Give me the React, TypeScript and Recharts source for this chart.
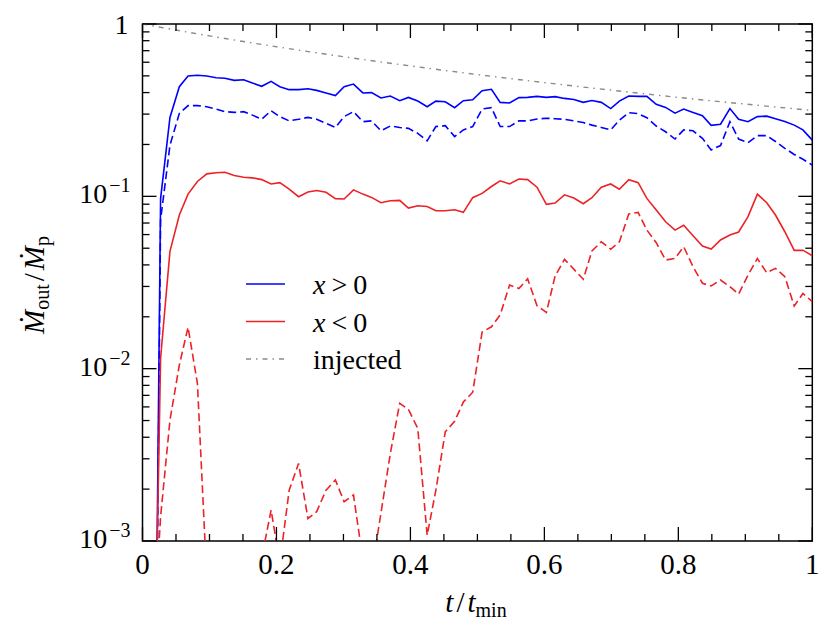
import React from 'react';
import { LineChart, Line, XAxis, YAxis, ReferenceArea, Legend } from 'recharts';

// chart box and plot area (px)
const W = 830;
const H = 635;
const PLOT_LEFT = 142.5;
const PLOT_TOP = 24;
const PLOT_RIGHT = 812.3;
const PLOT_BOTTOM = 541;

const FONT = '"Liberation Serif", "Times New Roman", Times, "DejaVu Serif", serif';
const TXT = { fontFamily: FONT };
const BLUE = '#0000ff';
const RED = '#ec2227';
const GREY = '#8a8a8a';

// t / t_min sample times
const T = [
  0, 0.014, 0.027, 0.041, 0.055, 0.068, 0.082, 0.096, 0.110, 0.123,
  0.137, 0.151, 0.164, 0.178, 0.192, 0.205, 0.219, 0.233, 0.247, 0.260,
  0.274, 0.288, 0.301, 0.315, 0.329, 0.342, 0.356, 0.370, 0.384, 0.397,
  0.411, 0.425, 0.438, 0.452, 0.466, 0.479, 0.493, 0.507, 0.521, 0.534,
  0.548, 0.562, 0.575, 0.589, 0.603, 0.616, 0.630, 0.644, 0.658, 0.671,
  0.685, 0.699, 0.712, 0.726, 0.740, 0.753, 0.767, 0.781, 0.795, 0.808,
  0.822, 0.836, 0.849, 0.863, 0.877, 0.890, 0.904, 0.918, 0.932, 0.945,
  0.959, 0.973, 0.986, 1,
];

// x > 0, total outflow (solid)
const BLUE_SOLID = [
  1e-8, 1e-6, 0.097, 0.287, 0.433, 0.499, 0.504, 0.499, 0.488, 0.484,
  0.471, 0.475, 0.455, 0.435, 0.465, 0.433, 0.416, 0.416, 0.421, 0.412,
  0.398, 0.384, 0.433, 0.448, 0.398, 0.400, 0.372, 0.382, 0.359, 0.375,
  0.357, 0.331, 0.357, 0.354, 0.327, 0.359, 0.363, 0.410, 0.418, 0.351,
  0.348, 0.374, 0.375, 0.380, 0.375, 0.379, 0.370, 0.365, 0.351, 0.360,
  0.351, 0.323, 0.357, 0.382, 0.380, 0.380, 0.342, 0.328, 0.304, 0.321,
  0.307, 0.294, 0.258, 0.262, 0.323, 0.280, 0.271, 0.290, 0.292, 0.282,
  0.272, 0.259, 0.243, 0.212,
];

// x > 0 (dashed)
const BLUE_DASHED = [
  1e-8, 3e-7, 0.073, 0.198, 0.303, 0.336, 0.336, 0.331, 0.321, 0.310,
  0.307, 0.310, 0.296, 0.280, 0.314, 0.290, 0.274, 0.280, 0.287, 0.280,
  0.265, 0.251, 0.290, 0.310, 0.271, 0.274, 0.240, 0.256, 0.251, 0.248,
  0.232, 0.210, 0.254, 0.257, 0.222, 0.243, 0.254, 0.321, 0.327, 0.254,
  0.254, 0.274, 0.274, 0.281, 0.284, 0.282, 0.280, 0.274, 0.268, 0.259,
  0.251, 0.243, 0.277, 0.306, 0.302, 0.286, 0.256, 0.237, 0.215, 0.243,
  0.240, 0.217, 0.186, 0.197, 0.271, 0.215, 0.205, 0.225, 0.225, 0.208,
  0.190, 0.175, 0.164, 0.152,
];

// x < 0 (solid)
const RED_SOLID = [
  1e-7, 2e-5, 0.0115, 0.048, 0.078, 0.103, 0.122, 0.135, 0.137, 0.138,
  0.132, 0.129, 0.128, 0.125, 0.118, 0.120, 0.110, 0.0995, 0.106, 0.108,
  0.1055, 0.097, 0.0965, 0.109, 0.103, 0.0986, 0.0918, 0.0943, 0.0947, 0.0855,
  0.0882, 0.0874, 0.0825, 0.0825, 0.0836, 0.0807, 0.0982, 0.104, 0.114, 0.123,
  0.118, 0.126, 0.125, 0.113, 0.0898, 0.0914, 0.102, 0.0977, 0.0906, 0.0982,
  0.113, 0.118, 0.110, 0.125, 0.120, 0.0973, 0.0833, 0.0712, 0.0637, 0.0679,
  0.0591, 0.0515, 0.0494, 0.0558, 0.0596, 0.0621, 0.0762, 0.103, 0.0918, 0.0779,
  0.0623, 0.0486, 0.0487, 0.0452,
];

// x < 0 (dashed)
const RED_DASHED = [
  1e-5, 0.0002, 0.00138, 0.00503, 0.0105, 0.0174, 0.0082, 0.0006, 0.0003, 0.0002,
  0.0002, 0.0003, 0.0004, 0.0008, 0.00151, 0.00075, 0.00197, 0.00282, 0.00135, 0.00148,
  0.00197, 0.00226, 0.00169, 0.00185, 0.00078, 0.00066, 0.00145, 0.00322, 0.00629, 0.0058,
  0.0045, 0.00108, 0.00197, 0.0043, 0.00495, 0.0064, 0.0073, 0.0163, 0.0175, 0.0205,
  0.0306, 0.0292, 0.0332, 0.0232, 0.0212, 0.0345, 0.0431, 0.0378, 0.0330, 0.0482,
  0.0545, 0.0493, 0.0545, 0.0789, 0.0807, 0.0637, 0.0538, 0.0427, 0.0436, 0.0510,
  0.0390, 0.0313, 0.0302, 0.0327, 0.0299, 0.0271, 0.0349, 0.0436, 0.0360, 0.0382,
  0.0342, 0.0231, 0.0273, 0.0245,
];

// injected rate
const INJ_T = [0, 0.1, 0.2, 0.3, 0.4, 0.5, 0.6, 0.7, 0.8, 0.9, 1];
const INJECTED = [1.0, 0.853, 0.738, 0.646, 0.571, 0.509, 0.457, 0.413, 0.375, 0.343, 0.315];

const X_TICKS = [
  0, 0.05, 0.1, 0.15, 0.2, 0.25, 0.3, 0.35, 0.4, 0.45, 0.5,
  0.55, 0.6, 0.65, 0.7, 0.75, 0.8, 0.85, 0.9, 0.95, 1,
];
const X_MAJOR = [0, 0.2, 0.4, 0.6, 0.8, 1];
const X_LABELS = ['0', '0.2', '0.4', '0.6', '0.8', '1'];

const Y_TICKS = [
  0.001, 0.002, 0.003, 0.004, 0.005, 0.006, 0.007, 0.008, 0.009,
  0.01, 0.02, 0.03, 0.04, 0.05, 0.06, 0.07, 0.08, 0.09,
  0.1, 0.2, 0.3, 0.4, 0.5, 0.6, 0.7, 0.8, 0.9, 1,
];
const Y_MAJOR = [0.001, 0.01, 0.1, 1];
const Y_EXP = ['\u22123', '\u22122', '\u22121', ''];

const rows = T.map((t, i) => ({
  t,
  blueSolid: BLUE_SOLID[i],
  blueDashed: BLUE_DASHED[i],
  redSolid: RED_SOLID[i],
  redDashed: RED_DASHED[i],
}));
const injRows = INJ_T.map((t, i) => ({ t, injected: INJECTED[i] }));

const MAJOR_LEN = 14;
const MINOR_LEN = 7;

const XTick = (props: any) => {
  const { x, payload } = props;
  const idx = X_MAJOR.indexOf(payload.value);
  const len = idx >= 0 ? MAJOR_LEN : MINOR_LEN;
  return (
    <g>
      <line x1={x} x2={x} y1={PLOT_BOTTOM} y2={PLOT_BOTTOM - len} stroke="#000" strokeWidth={1.3} />
      <line x1={x} x2={x} y1={PLOT_TOP} y2={PLOT_TOP + len} stroke="#000" strokeWidth={1.3} />
      {idx >= 0 && (
        <text x={x} y={PLOT_BOTTOM + 33} textAnchor="middle" style={TXT} fontSize={29} fill="#000">
          {X_LABELS[idx]}
        </text>
      )}
    </g>
  );
};

const YTick = (props: any) => {
  const { y, payload } = props;
  const idx = Y_MAJOR.indexOf(payload.value);
  const len = idx >= 0 ? MAJOR_LEN : MINOR_LEN;
  let label = null;
  if (idx >= 0 && Y_EXP[idx] === '') {
    label = (
      <text x={PLOT_LEFT - 14} y={y + 10} textAnchor="end" style={TXT} fontSize={28} fill="#000">
        1
      </text>
    );
  } else if (idx >= 0) {
    label = (
      <text x={PLOT_LEFT - 12} y={y + 7} textAnchor="end" style={TXT} fontSize={28} fill="#000">
        10<tspan fontSize={20} dx={2} dy={-11}>{Y_EXP[idx]}</tspan>
      </text>
    );
  }
  return (
    <g>
      <line x1={PLOT_LEFT} x2={PLOT_LEFT + len} y1={y} y2={y} stroke="#000" strokeWidth={1.3} />
      <line x1={PLOT_RIGHT} x2={PLOT_RIGHT - len} y1={y} y2={y} stroke="#000" strokeWidth={1.3} />
      {label}
    </g>
  );
};

const XTitle = () => (
  <text x={476} y={612} textAnchor="middle" style={TXT} fontSize={29} fill="#000">
    <tspan fontStyle="italic">t</tspan>
    <tspan dx={3}>/</tspan>
    <tspan dx={3} fontStyle="italic">t</tspan>
    <tspan fontSize={20} dy={5}>min</tspan>
  </text>
);

const YTitle = () => (
  <text
    x={44}
    y={285}
    transform="rotate(-90 44 285)"
    textAnchor="middle"
    style={TXT}
    fontSize={29}
    fill="#000"
  >
    <tspan fontStyle="italic">{'\u1E40'}</tspan>
    <tspan fontSize={20} dy={5}>out</tspan>
    <tspan dx={3} dy={-5}>/</tspan>
    <tspan dx={3} fontStyle="italic">{'\u1E40'}</tspan>
    <tspan fontSize={20} dy={5}>p</tspan>
  </text>
);

const LEGEND_ITEMS = [
  { key: 'pos', color: BLUE, dash: undefined as string | undefined },
  { key: 'neg', color: RED, dash: undefined as string | undefined },
  { key: 'inj', color: GREY, dash: '5 5 1.5 5' },
];

const LegendBox = () => (
  <svg width={190} height={115} style={{ display: 'block' }}>
    {LEGEND_ITEMS.map((item, i) => {
      const y = 24 + i * 37.5;
      return (
        <g key={item.key}>
          <line x1={16} x2={55} y1={y} y2={y} stroke={item.color} strokeWidth={1.6} strokeDasharray={item.dash} />
          <text x={83} y={y + 10} style={TXT} fontSize={28} fill="#000">
            {item.key === 'inj' ? (
              'injected'
            ) : (
              <>
                <tspan fontStyle="italic">x</tspan>
                <tspan dx={6}>{item.key === 'pos' ? '>' : '<'}</tspan>
                <tspan dx={6}>0</tspan>
              </>
            )}
          </text>
        </g>
      );
    })}
  </svg>
);

export default function App() {
  return (
    <div style={{ position: 'absolute', left: 0, top: 0, width: W, height: H, background: '#fff', fontFamily: FONT }}>
      <LineChart
        width={W}
        height={H}
        data={rows}
        margin={{ top: PLOT_TOP, right: W - PLOT_RIGHT, bottom: 0, left: 0 }}
      >
        <XAxis
          type="number"
          dataKey="t"
          domain={[0, 1]}
          ticks={X_TICKS}
          interval={0}
          allowDataOverflow
          height={H - PLOT_BOTTOM}
          axisLine={false}
          tickLine={false}
          tick={(p: any) => <XTick {...p} />}
          label={<XTitle />}
        />
        <YAxis
          type="number"
          scale="log"
          domain={[0.001, 1]}
          ticks={Y_TICKS}
          interval={0}
          allowDataOverflow
          width={PLOT_LEFT}
          axisLine={false}
          tickLine={false}
          tick={(p: any) => <YTick {...p} />}
          label={<YTitle />}
        />
        <ReferenceArea x1={0} x2={1} y1={0.001} y2={1} fill="none" stroke="#000" strokeWidth={1.5} />
        <Line type="linear" dataKey="blueSolid" stroke={BLUE} strokeWidth={1.6} dot={false} activeDot={false} isAnimationActive={false} />
        <Line type="linear" dataKey="blueDashed" stroke={BLUE} strokeWidth={1.6} strokeDasharray="8 4" dot={false} activeDot={false} isAnimationActive={false} />
        <Line type="linear" dataKey="redSolid" stroke={RED} strokeWidth={1.6} dot={false} activeDot={false} isAnimationActive={false} />
        <Line type="linear" dataKey="redDashed" stroke={RED} strokeWidth={1.6} strokeDasharray="8 4" dot={false} activeDot={false} isAnimationActive={false} />
        <Line
          type="monotone"
          data={injRows}
          dataKey="injected"
          stroke={GREY}
          strokeWidth={1.4}
          strokeDasharray="5 5 1.5 5"
          dot={false}
          activeDot={false}
          isAnimationActive={false}
        />
        <Legend
          layout="horizontal"
          verticalAlign="middle"
          align="center"
          wrapperStyle={{ left: 230, top: 260, width: 190 }}
          content={() => <LegendBox />}
        />
      </LineChart>
    </div>
  );
}
